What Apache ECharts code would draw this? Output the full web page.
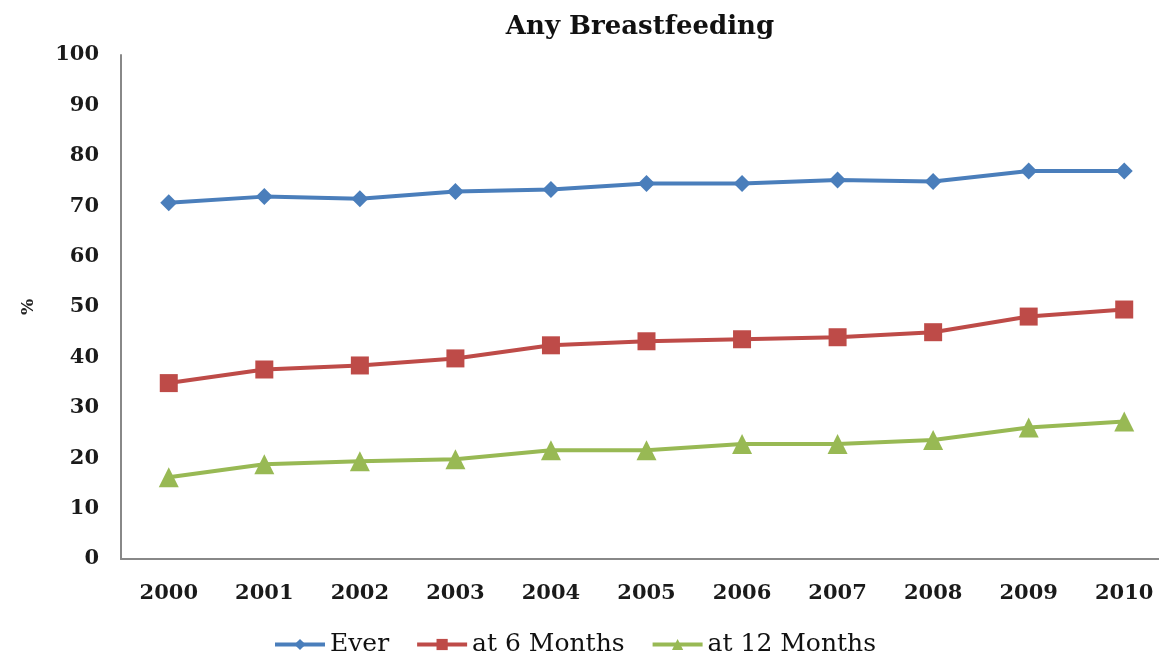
<!DOCTYPE html>
<html>
<head>
<meta charset="utf-8">
<script src="https://cdn.jsdelivr.net/npm/echarts@6/dist/echarts.min.js"></script>
<style>
  html, body { margin: 0; padding: 0; background: #fff; overflow: hidden; }
  /* plot area runs a little past the right edge in the reference */
  #chart { width: 1172px; height: 662px; }
</style>
</head>
<body>
<div id="chart"></div>
<script>
// data
var years = ['2000', '2001', '2002', '2003', '2004', '2005', '2006', '2007', '2008', '2009', '2010']
var everValues = [70.7, 71.9, 71.5, 72.9, 73.3, 74.5, 74.5, 75.2, 74.9, 77.0, 77.0]
var sixMonthValues = [34.9, 37.6, 38.4, 39.8, 42.4, 43.2, 43.6, 44.0, 45.0, 48.1, 49.5]
var twelveMonthValues = [16.2, 18.8, 19.4, 19.8, 21.6, 21.6, 22.8, 22.8, 23.6, 26.1, 27.3]
var seriesNames = ['Ever', 'at 6 Months', 'at 12 Months']

var fontFamily = '"DejaVu Serif", "Liberation Serif", serif'
var myChart = echarts.init(document.getElementById('chart'))

function lineSeries(name, data, color, symbol, size) {
  return {
    name: name,
    type: 'line',
    data: data,
    symbol: symbol,
    symbolSize: size,
    lineStyle: { color: color, width: 4 },
    itemStyle: { color: color },
    animation: false
  }
}

myChart.setOption({
  title: {
    text: 'Any Breastfeeding',
    left: 635,
    top: 9,
    textAlign: 'center',
    textStyle: { fontFamily: fontFamily, fontSize: 26, fontWeight: 'bold', color: '#111' }
  },
  grid: { left: 121, top: 55, right: 0, bottom: 103 },
  legend: {
    bottom: 0,
    left: 268,
    itemWidth: 50,
    itemHeight: 14,
    itemGap: 26,
    lineStyle: { width: 4 },
    textStyle: { fontFamily: fontFamily, fontSize: 25, color: '#111' },
    data: seriesNames
  },
  xAxis: {
    type: 'category',
    data: years,
    boundaryGap: true,
    axisLine: { lineStyle: { color: '#888', width: 2 } },
    axisTick: { show: false },
    axisLabel: { fontFamily: fontFamily, fontSize: 21, fontWeight: 600, color: '#1a1a1a', margin: 24 }
  },
  yAxis: {
    type: 'value',
    min: 0,
    max: 100,
    interval: 10,
    name: '%',
    nameLocation: 'middle',
    nameGap: 84,
    nameRotate: 90,
    nameTextStyle: { fontFamily: fontFamily, fontSize: 17, fontWeight: 'bold', color: '#222' },
    axisLine: { show: true, lineStyle: { color: '#888', width: 2 } },
    axisTick: { show: false },
    splitLine: { show: false },
    axisLabel: { fontFamily: fontFamily, fontSize: 21, fontWeight: 600, color: '#1a1a1a', margin: 22 }
  },
  series: [
    lineSeries(seriesNames[0], everValues, '#4a7ebb', 'diamond', 17),
    lineSeries(seriesNames[1], sixMonthValues, '#be4b48', 'rect', 18),
    lineSeries(seriesNames[2], twelveMonthValues, '#98b954', 'triangle', 20)
  ]
})
</script>
</body>
</html>
